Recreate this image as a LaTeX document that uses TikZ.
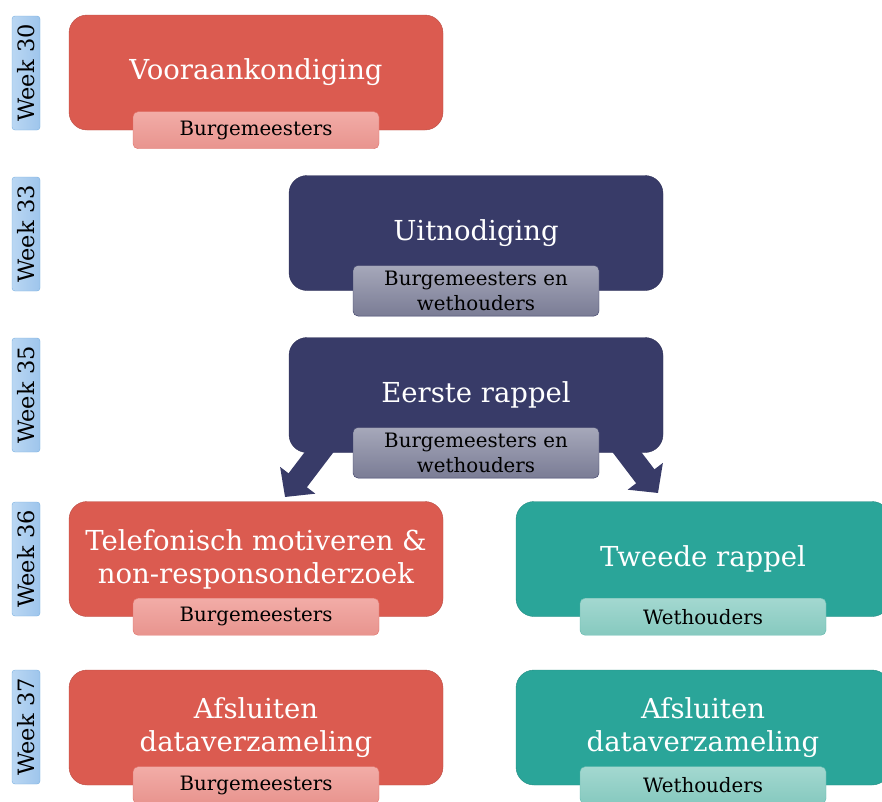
\documentclass[tikz,border=0pt]{standalone}
\usepackage{fontspec}
\setmainfont{DejaVu Serif}
\usetikzlibrary{arrows.meta}
\definecolor{color1}{RGB}{219,91,80}
\definecolor{color1a}{RGB}{242,172,167}
\definecolor{color1b}{RGB}{232,148,142}
\definecolor{color1c}{RGB}{224,112,104}
\definecolor{color2}{RGB}{56,59,104}
\definecolor{color2a}{RGB}{166,168,186}
\definecolor{color2b}{RGB}{122,124,149}
\definecolor{color2c}{RGB}{58,61,102}
\definecolor{color3}{RGB}{42,165,153}
\definecolor{color3a}{RGB}{163,216,208}
\definecolor{color3b}{RGB}{134,201,191}
\definecolor{color3c}{RGB}{95,184,172}
\definecolor{weekA}{RGB}{186,215,243}
\definecolor{weekB}{RGB}{158,197,236}
\definecolor{weekC}{RGB}{122,176,224}

\begin{document}
\begin{tikzpicture}[x=1pt,y=1pt]
\tikzset{blok/.style={draw=#1!85!black,fill=#1,rounded corners=18pt,minimum width=374pt,minimum height=115pt,text=white,align=center,font=\fontsize{27.5}{33}\selectfont},
sub box/.style={draw=#1c,top color=#1a,bottom color=#1b,rounded corners=5pt,minimum width=246pt,minimum height=37pt,inner xsep=2pt,inner ysep=5.5pt,align=center,font=\fontsize{19.8}{25}\selectfont},
week/.style={draw=weekC,left color=weekA,right color=weekB,rounded corners=3pt,rotate=90,minimum width=114pt,minimum height=28pt,inner sep=1pt,font=\fontsize{22.5}{24}\selectfont},
pijl/.style={color2,line width=23pt,-{Triangle[width=43pt,length=21pt]}}}
\clip (0,0) rectangle (882,-801);
% Weken
\node [week] (w30) at (26,-73) {Week 30};
\node [week] (w33) at (26,-234) {Week 33};
\node [week] (w35) at (26,-395) {Week 35};
\node [week] (w36) at (26,-559) {Week 36};
\node [week] (w37) at (26,-727) {Week 37};
% Blokken
\node [blok=color1] (vooraan) at (256,-72.5) {Vooraankondiging};
\node [blok=color2] (uitnod) at (476,-233) {Uitnodiging};
\node [blok=color2] (rappel1) at (476,-395) {Eerste rappel};
\node [blok=color1] (telefoon) at (256,-559) {Telefonisch motiveren \&\\non-responsonderzoek};
\node [blok=color3] (rappel2) at (703,-559) {Tweede rappel};
\node [blok=color1] (afslL) at (256,-727.5) {Afsluiten\\dataverzameling};
\node [blok=color3] (afslR) at (703,-727.5) {Afsluiten\\dataverzameling};
% Pijlen
\coordinate (pijlL) at (285,-497);
\coordinate (pijlR) at (658,-493);
\draw [pijl] ([xshift=39pt,yshift=12pt]rappel1.south west) -- (pijlL);
\draw [pijl] ([xshift=-45pt,yshift=12pt]rappel1.south east) -- (pijlR);
% Doelgroepen
\node [sub box=color1] (s1) at (vooraan.south) {Burgemeesters};
\node [sub box=color2] (s2) at (uitnod.south) {Burgemeesters en\\wethouders};
\node [sub box=color2] (s3) at (rappel1.south) {Burgemeesters en\\wethouders};
\node [sub box=color1] (s4) at (telefoon.south) {Burgemeesters};
\node [sub box=color3] (s5) at (rappel2.south) {Wethouders};
\node [sub box=color1] (s6) at (afslL.south) {Burgemeesters};
\node [sub box=color3] (s7) at (afslR.south) {Wethouders};
\end{tikzpicture}
\end{document}
